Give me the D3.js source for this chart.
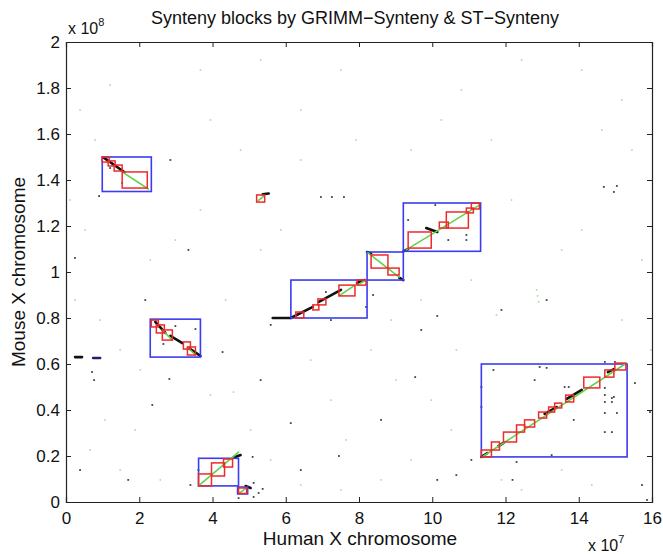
<!DOCTYPE html>
<html lang="en">
<head>
    <meta charset="UTF-8"/>
    <title>Synteny blocks</title>
    <script src="https://d3js.org/d3.v7.min.js"></script>
    <style>
        body, html {
            margin: 0;
            padding: 0;
            background: #fff;
            font-family: "Liberation Sans", Arial, sans-serif;
        }
        svg { display: block; }
    </style>
</head>
<body>
<svg id="chart" width="663" height="554"></svg>
<script>
    // x in units of 1e7 (human), y in units of 1e8 (mouse)
    const xTicks = [0, 2, 4, 6, 8, 10, 12, 14, 16];
    const yTicks = [0, 0.2, 0.4, 0.6, 0.8, 1, 1.2, 1.4, 1.6, 1.8, 2];

    // GRIMM-Synteny blocks [x0, x1, y0, y1]
    const blueBoxes = [
        [0.99, 2.33, 1.35, 1.50],
        [2.30, 3.67, 0.63, 0.795],
        [3.62, 4.71, 0.07, 0.19],
        [4.685, 4.96, 0.035, 0.065],
        [6.14, 8.22, 0.80, 0.965],
        [8.22, 9.21, 0.965, 1.087],
        [9.21, 11.32, 1.09, 1.30],
        [11.34, 15.32, 0.196, 0.60]
    ];

    // ST-Synteny blocks [x0, x1, y0, y1]
    const redBoxes = [
        [0.986, 1.178, 1.478, 1.50], [1.151, 1.342, 1.461, 1.483], [1.315, 1.534, 1.439, 1.465],
        [1.534, 2.219, 1.365, 1.435],
        [2.329, 2.521, 0.761, 0.791], [2.466, 2.685, 0.735, 0.770], [2.630, 2.904, 0.704, 0.748],
        [3.205, 3.397, 0.665, 0.696], [3.315, 3.534, 0.639, 0.674],
        [3.616, 3.973, 0.070, 0.122], [3.973, 4.329, 0.113, 0.170], [4.301, 4.548, 0.152, 0.187],
        [4.712, 4.932, 0.037, 0.061],
        [5.205, 5.425, 1.304, 1.335],
        [6.274, 6.493, 0.80, 0.826], [6.740, 6.904, 0.835, 0.857], [6.877, 7.096, 0.857, 0.883],
        [7.452, 7.890, 0.896, 0.943], [7.945, 8.192, 0.943, 0.965],
        [8.33, 8.79, 1.017, 1.074], [8.79, 9.096, 0.987, 1.017],
        [9.342, 9.973, 1.104, 1.174], [10.192, 10.438, 1.191, 1.217], [10.384, 10.986, 1.191, 1.261],
        [10.932, 11.123, 1.257, 1.278], [11.068, 11.288, 1.274, 1.30],
        [11.342, 11.616, 0.196, 0.226], [11.616, 11.836, 0.226, 0.261], [11.945, 12.301, 0.261, 0.304],
        [12.301, 12.521, 0.304, 0.335], [12.521, 12.795, 0.326, 0.357], [12.904, 13.123, 0.365, 0.391],
        [13.178, 13.342, 0.391, 0.413], [13.342, 13.534, 0.409, 0.430], [13.644, 13.863, 0.435, 0.465],
        [14.137, 14.575, 0.496, 0.543], [14.712, 14.959, 0.543, 0.574], [14.986, 15.288, 0.574, 0.604]
    ];

    // green diagonals [x0, y0, x1, y1]
    const greenLines = [
        [1.534, 1.435, 2.247, 1.361],
        [2.63, 0.748, 2.904, 0.704],
        [3.315, 0.674, 3.534, 0.639],
        [3.616, 0.07, 4.712, 0.217],
        [4.74, 0.04, 4.90, 0.058],
        [5.25, 1.31, 5.40, 1.33],
        [7.452, 0.896, 7.890, 0.943],
        [7.945, 0.943, 8.192, 0.965],
        [8.247, 1.083, 9.096, 0.978],
        [9.288, 1.096, 11.288, 1.291],
        [11.40, 0.20, 15.29, 0.602]
    ];

    // black anchor hits [x0, y0, x1, y1]
    const blackHits = [
        [1.041, 1.496, 1.589, 1.435],
        [2.438, 0.783, 2.712, 0.735], [2.849, 0.722, 3.178, 0.691], [3.342, 0.670, 3.671, 0.635],
        [4.548, 0.191, 4.767, 0.204],
        [4.904, 0.0696, 5.041, 0.0609],
        [5.370, 1.338, 5.534, 1.341],
        [5.644, 0.80, 6.137, 0.80],
        [6.137, 0.80, 6.740, 0.848], [6.904, 0.870, 7.507, 0.922],
        [7.945, 0.952, 8.164, 0.965],
        [8.22, 1.087, 8.33, 1.080], [9.10, 0.975, 9.21, 0.965],
        [9.836, 1.191, 10.137, 1.174], [9.21, 1.09, 9.34, 1.10],
        [11.342, 0.196, 11.507, 0.213], [11.808, 0.243, 11.945, 0.257],
        [13.068, 0.383, 13.397, 0.413], [13.671, 0.448, 14.082, 0.487],
        [14.795, 0.565, 14.959, 0.578],
        [0.247, 0.630, 0.438, 0.630]
    ];
    const blueHits = [
        [0.74, 0.626, 0.932, 0.626]
    ];

    // scattered single anchors [x, y]
    const blackDots = [
        [1.534, 1.387], [0.904, 1.330], [1.205, 1.452], [2.822, 0.535], [2.658, 0.687], [3.534, 0.752],
        [2.986, 0.765], [5.123, 0.022], [6.959, 1.326], [7.260, 1.326], [7.589, 1.326], [10.137, 0.809],
        [10.932, 1.139], [10.438, 1.139], [10.082, 1.291], [9.342, 1.226], [10.932, 1.161],
        [14.685, 1.370], [14.959, 1.348], [15.041, 1.374],
        [11.671, 0.574], [12.932, 0.587], [13.123, 0.583], [12.795, 0.530], [13.616, 0.50], [13.726, 0.50],
        [14.712, 0.496], [14.712, 0.465], [14.904, 0.452], [14.959, 0.457], [14.712, 0.435], [14.904, 0.435],
        [14.712, 0.387], [15.041, 0.387], [13.863, 0.357], [14.712, 0.304], [14.904, 0.304], [12.301, 0.174],
        [11.342, 0.50], [11.342, 0.413], [14.712, 0.609], [14.986, 0.609], [13.260, 0.204],
        [2.356, 0.422], [0.247, 1.061], [0.712, 0.565], [0.767, 0.530], [5.589, 0.770], [7.096, 0.913],
        [8.384, 0.90], [8.192, 0.848], [7.233, 0.791], [4.712, 0.017], [5.260, 0.039], [5.370, 0.057],
        [1.699, 0.096], [0.384, 0.139], [6.137, 0.343], [7.452, 0.20], [9.699, 0.748], [9.534, 0.543],
        [8.603, 0.357], [4.274, 0.652], [5.315, 0.530], [15.863, 0.009], [15.945, 0.391], [15.534, 0.517],
        [11.068, 0.183], [10.137, 0.096], [10.658, 0.117], [12.192, 0.096], [15.726, 0.074], [11.890, 0.835],
        [13.123, 0.878], [6.411, 0.139], [2.849, 1.487], [2.164, 0.878], [3.342, 1.096], [3.616, 0.139],
        [3.397, 0.074], [5.096, 0.196], [5.123, 0.083]
    ];
    const greenDots = [
        [0.384, 1.704], [0.795, 1.574], [0.110, 1.313], [0.521, 1.183], [0.247, 0.878], [1.068, 0.357],
        [0.658, 0.226], [1.479, 0.139], [1.890, 0.313], [2.301, 1.052], [2.986, 1.139], [3.671, 1.270],
        [3.945, 1.661], [4.767, 1.530], [5.315, 1.096], [5.863, 1.183], [6.411, 1.704], [6.685, 0.617],
        [7.233, 0.443], [7.644, 0.270], [8.329, 0.661], [8.877, 0.791], [9.425, 1.530], [10.247, 1.661],
        [10.795, 1.791], [11.616, 1.574], [12.164, 1.313], [12.849, 0.922], [12.877, 0.896], [12.904, 0.870],
        [13.534, 1.096], [14.082, 1.183], [14.630, 1.617], [15.452, 1.530], [15.726, 1.052], [15.178, 0.791],
        [15.97, 0.661], [11.890, 0.096], [12.438, 0.052], [13.534, 0.139], [14.356, 0.074], [10.521, 0.313],
        [9.973, 0.443], [9.425, 0.183], [8.603, 0.096], [7.507, 0.052], [6.411, 0.074], [5.589, 0.183],
        [5.041, 0.313], [4.356, 0.878], [2.575, 0.096], [0.932, 0.791], [1.479, 0.661], [2.027, 0.574],
        [3.945, 0.465], [4.575, 0.478], [6.411, 1.487], [7.918, 1.574], [12.438, 1.922], [14.082, 1.878],
        [11.068, 0.965], [9.699, 0.878], [9.014, 0.530], [10.658, 0.661], [11.753, 0.813], [15.178, 1.748],
        [1.205, 1.813], [3.671, 1.878], [5.315, 1.922], [7.507, 1.878]
    ];

    const svg = d3.select("#chart");
    const width = 663, height = 554;
    const margin = {top: 42, right: 11, bottom: 52, left: 66};
    const innerW = width - margin.left - margin.right;
    const innerH = height - margin.top - margin.bottom;

    const x = d3.scaleLinear().domain([0, 16]).range([margin.left, margin.left + innerW]);
    const y = d3.scaleLinear().domain([0, 2]).range([margin.top + innerH, margin.top]);

    const plot = svg.append("g");

    // faint green anchors
    plot.selectAll("rect.gdot")
        .data(greenDots)
        .enter()
        .append("rect")
        .attr("x", d => x(d[0]) - 0.8)
        .attr("y", d => y(d[1]) - 0.8)
        .attr("width", 1.6)
        .attr("height", 1.6)
        .attr("fill", "#a6dca0");

    plot.selectAll("rect.bdot")
        .data(blackDots)
        .enter()
        .append("rect")
        .attr("x", d => x(d[0]) - 0.9)
        .attr("y", d => y(d[1]) - 0.9)
        .attr("width", 1.8)
        .attr("height", 1.8)
        .attr("fill", "#444");

    const seg = (sel, data, color, w) => sel.selectAll(null)
        .data(data)
        .enter()
        .append("line")
        .attr("x1", d => x(d[0]))
        .attr("y1", d => y(d[1]))
        .attr("x2", d => x(d[2]))
        .attr("y2", d => y(d[3]))
        .attr("stroke", color)
        .attr("stroke-width", w)
        .attr("stroke-linecap", "round");

    seg(plot, blackHits, "#111", 2.6);
    seg(plot, blueHits, "#22226a", 2.6);

    // blue GRIMM-Synteny blocks
    plot.selectAll("rect.blue")
        .data(blueBoxes)
        .enter()
        .append("rect")
        .attr("x", d => x(d[0]))
        .attr("y", d => y(d[3]))
        .attr("width", d => x(d[1]) - x(d[0]))
        .attr("height", d => y(d[2]) - y(d[3]))
        .attr("fill", "none")
        .attr("stroke", "#3b3bf0")
        .attr("stroke-width", 1.6);

    seg(plot, greenLines, "#5fd34a", 1.6);

    // red ST-Synteny blocks
    plot.selectAll("rect.red")
        .data(redBoxes)
        .enter()
        .append("rect")
        .attr("x", d => x(d[0]))
        .attr("y", d => y(d[3]))
        .attr("width", d => x(d[1]) - x(d[0]))
        .attr("height", d => y(d[2]) - y(d[3]))
        .attr("fill", "none")
        .attr("stroke", "#ee2a2a")
        .attr("stroke-width", 1.5);

    // axes, MATLAB style with inward ticks on all sides
    const axisColor = "#222";
    const tickLen = 5;
    const fontSize = 17;
    const gBottom = svg.append("g")
        .attr("transform", `translate(0,${margin.top + innerH})`)
        .call(d3.axisBottom(x).tickValues(xTicks).tickSize(-tickLen).tickPadding(8).tickFormat(d3.format("d")));
    const gTop = svg.append("g")
        .attr("transform", `translate(0,${margin.top})`)
        .call(d3.axisTop(x).tickValues(xTicks).tickSize(-tickLen).tickFormat(""));
    const gLeft = svg.append("g")
        .attr("transform", `translate(${margin.left},0)`)
        .call(d3.axisLeft(y).tickValues(yTicks).tickSize(-tickLen).tickPadding(6).tickFormat(d => d3.format("~g")(d)));
    const gRight = svg.append("g")
        .attr("transform", `translate(${margin.left + innerW},0)`)
        .call(d3.axisRight(y).tickValues(yTicks).tickSize(-tickLen).tickFormat(""));

    [gBottom, gTop, gLeft, gRight].forEach(g => {
        g.select(".domain").attr("stroke", axisColor).attr("stroke-width", 1.2);
        g.selectAll(".tick line").attr("stroke", axisColor);
        g.selectAll("text")
            .attr("fill", "#111")
            .style("font-family", "'Liberation Sans', Arial, sans-serif")
            .style("font-size", fontSize + "px");
    });
    gBottom.selectAll("text").attr("dy", "0.8em");

    // title and labels
    const txt = (xp, yp, s, size, anchor) => svg.append("text")
        .attr("x", xp)
        .attr("y", yp)
        .attr("text-anchor", anchor || "middle")
        .attr("fill", "#111")
        .style("font-size", size + "px")
        .text(s);

    txt(355, 24, "Synteny blocks by GRIMM\u2212Synteny & ST\u2212Synteny", 18);
    txt(margin.left + innerW / 2 + 1, 545, "Human X chromosome", 19);
    svg.append("text")
        .attr("transform", `translate(25,${margin.top + innerH / 2}) rotate(-90)`)
        .attr("text-anchor", "middle")
        .attr("fill", "#111")
        .style("font-size", "19px")
        .text("Mouse X chromosome");

    // exponent markers
    const e8 = txt(68, 34, "x 10", 16, "start");
    e8.append("tspan").attr("dy", -8).style("font-size", "11px").text("8");
    const e7 = txt(588, 551, "x 10", 16, "start");
    e7.append("tspan").attr("dy", -8).style("font-size", "11px").text("7");
</script>
</body>
</html>
